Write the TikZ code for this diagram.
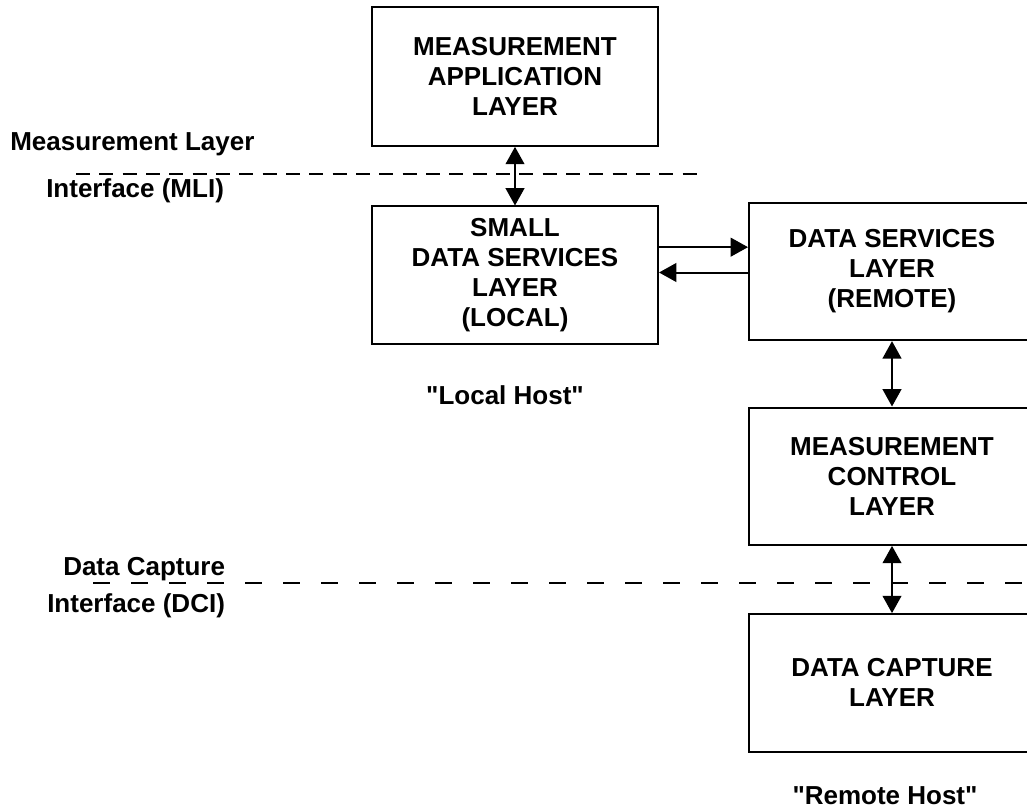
\documentclass[tikz,border=0pt]{standalone}
\usepackage{fontspec}
\setmainfont{Liberation Sans}
\usetikzlibrary{arrows.meta, positioning}

\begin{document}
\begin{tikzpicture}[x=0.75pt, y=-0.75pt, auto, >={Triangle[length=13pt,width=14pt]}]
    \tikzstyle{layer}=[shape=rectangle, draw, line width=1.5pt, minimum width=214.5pt, minimum height=103pt, align=center, font=\fontsize{19.5}{22.5}\selectfont\bfseries]
    \tikzstyle{note}=[inner sep=0pt, font=\fontsize{19.5}{22.5}\selectfont\bfseries]
    \tikzstyle{iface}=[line width=1.2pt, dash pattern=on 10.5pt off 7pt]

    \useasboundingbox (0,0) rectangle (1027,809);
    \clip (0,0) rectangle (1027,809);

    \node[layer, minimum height=104pt] (app) at (515,76.5) {MEASUREMENT\\APPLICATION\\LAYER};
    \node[layer, below=44pt of app] (local) {SMALL\\DATA SERVICES\\LAYER\\(LOCAL)};
    \node[layer] (remote) at (892,271.5) {DATA SERVICES\\LAYER\\(REMOTE)};
    \node[layer, below=49pt of remote] (control) {MEASUREMENT\\CONTROL\\LAYER};
    \node[layer, below=50.5pt of control] (capture) {DATA CAPTURE\\LAYER};

    \node[note, anchor=base west] (mli1) at (10,151) {Measurement Layer};
    \node[note, anchor=base west] (mli2) at (46,198) {Interface (MLI)};
    \node[note, anchor=base west] (dci1) at (63,575) {Data Capture};
    \node[note, anchor=base west] (dci2) at (47,612) {Interface (DCI)};
    \node[note, anchor=base] (localhost) at (505,404) {\textquotedbl Local Host\textquotedbl};
    \node[note, anchor=base] (remotehost) at (885,804) {\textquotedbl Remote Host\textquotedbl};

    % interface lines
    \coordinate (mliL) at (76,174);
    \coordinate (mliR) at (697,174);
    \coordinate (dciL) at (93,583);
    \coordinate (dciR) at (1027,583);
    \draw[iface] (mliL) -- (mliR);
    \draw[iface, dash pattern=on 12.75pt off 15.75pt] (dciL) -- (dciR);

    \path[<->, draw, line width=1.5pt]
    (app) edge (local)
    (remote) edge (control)
    (control) edge (capture)
    ;

    \draw[->, line width=1.5pt] ([yshift=21pt]local.east) -- ([yshift=21pt]local.east -| remote.west);
    \draw[->, line width=1.5pt] ([yshift=2pt]local.east -| remote.west) -- ([yshift=2pt]local.east);

\end{tikzpicture}
\end{document}
